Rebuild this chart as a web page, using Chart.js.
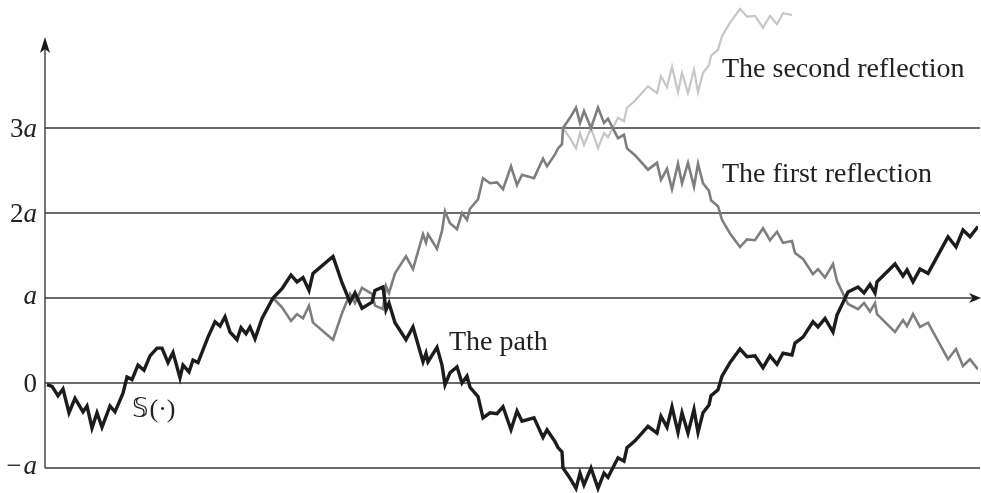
<!DOCTYPE html>
<html>
<head>
<meta charset="utf-8">
<script src="https://cdn.jsdelivr.net/npm/chart.js@4.4.1/dist/chart.umd.min.js"></script>
<style>
    html, body { margin: 0; padding: 0; background: #fff; }
    #wrap { width: 981px; height: 493px; }
</style>
</head>
<body>
<div id="wrap"><canvas id="reflectionChart" width="981" height="493"></canvas></div>
<script>
// time of each vertex of the walk (arbitrary units, 0..933)
const times = [
    2, 7, 13, 18, 24, 30, 38, 42, 47, 52, 57, 65, 70, 78, 82, 87, 93, 99, 105, 112,
    117, 123, 128, 135, 138, 144, 148, 153, 163, 170, 175, 180, 185, 192, 196, 201, 205, 210, 217, 228,
    237, 246, 252, 258, 264, 268, 288, 297, 305, 310, 317, 327, 330, 338, 341, 344, 350, 361, 368, 378,
    381, 383, 392, 397, 400, 405, 412, 417, 422, 425, 433, 438, 445, 452, 458, 466, 472, 477, 489, 498,
    502, 510, 513, 517, 518, 525, 531, 535, 539, 546, 553, 559, 563, 573, 579, 582, 590, 603, 612, 616,
    622, 627, 633, 637, 643, 649, 653, 658, 664, 666, 673, 677, 685, 695, 702, 710, 718, 725, 732, 738,
    747, 750, 758, 768, 773, 780, 788, 792, 803, 813, 819, 825, 830, 832, 850, 858, 862, 868, 875, 883,
    903, 911, 918, 925, 933
];

// the path S(.), in units of a
const pathValues = [
    -0.02, -0.04, -0.15, -0.07, -0.35, -0.18, -0.34, -0.27, -0.53, -0.35, -0.52, -0.27, -0.34, -0.12, 0.07, 0.04, 0.21, 0.15, 0.32, 0.41,
    0.41, 0.24, 0.36, 0.06, 0.21, 0.13, 0.27, 0.24, 0.54, 0.72, 0.67, 0.78, 0.60, 0.51, 0.65, 0.58, 0.66, 0.52, 0.76, 1.00,
    1.11, 1.27, 1.19, 1.24, 1.09, 1.29, 1.49, 1.18, 0.95, 1.06, 0.88, 0.95, 1.09, 1.13, 0.86, 0.94, 0.71, 0.51, 0.66, 0.25,
    0.35, 0.25, 0.42, 0.21, -0.02, 0.12, 0.19, 0.00, 0.08, -0.05, -0.16, -0.41, -0.35, -0.36, -0.28, -0.55, -0.33, -0.45, -0.41, -0.64,
    -0.55, -0.69, -0.76, -0.81, -1.00, -1.12, -1.24, -1.06, -1.20, -1.00, -1.24, -1.06, -1.11, -0.88, -0.92, -0.76, -0.68, -0.51, -0.59, -0.39,
    -0.52, -0.28, -0.58, -0.35, -0.59, -0.31, -0.58, -0.35, -0.26, -0.15, -0.08, 0.08, 0.24, 0.40, 0.31, 0.32, 0.18, 0.32, 0.22, 0.35,
    0.33, 0.47, 0.54, 0.72, 0.66, 0.76, 0.60, 0.80, 1.07, 1.13, 1.06, 1.16, 1.06, 1.19, 1.40, 1.26, 1.33, 1.19, 1.34, 1.29,
    1.72, 1.60, 1.80, 1.72, 1.84
];

// first reflection, from the first hit of a (time 228) to the end
const firstReflection = [
    1.00, 0.89, 0.73, 0.81, 0.76, 0.91, 0.71, 0.51, 0.82, 1.05, 0.94, 1.12, 1.05, 0.91, 0.87, 1.14, 1.06, 1.29, 1.49, 1.34,
    1.75, 1.65, 1.75, 1.58, 1.79, 2.02, 1.88, 1.81, 2.00, 1.92, 2.05, 2.16, 2.41, 2.35, 2.36, 2.28, 2.55, 2.33, 2.45, 2.41,
    2.64, 2.55, 2.69, 2.76, 2.81, 3.00, 3.12, 3.24, 3.06, 3.20, 3.00, 3.24, 3.06, 3.11, 2.88, 2.92, 2.76, 2.68, 2.51, 2.59,
    2.39, 2.52, 2.28, 2.58, 2.35, 2.59, 2.31, 2.58, 2.35, 2.26, 2.15, 2.08, 1.92, 1.76, 1.60, 1.69, 1.68, 1.82, 1.68, 1.78,
    1.65, 1.67, 1.53, 1.46, 1.28, 1.34, 1.24, 1.40, 1.20, 0.93, 0.87, 0.94, 0.84, 0.94, 0.81, 0.60, 0.74, 0.67, 0.81, 0.66,
    0.71, 0.28, 0.40, 0.20, 0.28, 0.16
];

// second reflection, from the first hit of 3a by the first reflection (time 518)
const secondReflection = [
    3.00, 2.88, 2.76, 2.94, 2.80, 3.00, 2.76, 2.94, 2.89, 3.12, 3.08, 3.24, 3.32, 3.49, 3.41, 3.61, 3.48, 3.72, 3.42, 3.65,
    3.41, 3.69, 3.42, 3.65, 3.74, 3.85, 3.92, 4.08, 4.24, 4.40, 4.31, 4.32, 4.18, 4.32, 4.22, 4.35, 4.33
];

const firstStartTime = 228;
const secondStartTime = 518;

// horizontal levels and their labels (roman part, italic part)
const levelValues = [-1, 0, 1, 2, 3];
const levelLabels = [['\u2212', 'a'], ['0', ''], ['', 'a'], ['2', 'a'], ['3', 'a']];

const SERIF = '"Liberation Serif", "DejaVu Serif", serif';

function toPoints(values, startTime) {
    const start = times.indexOf(startTime);
    return values.map((v, i) => ({ x: times[start + i], y: v }));
}

function arrowHead(ctx, tx, ty, dir) {
    // dir: 'right' or 'up'
    ctx.beginPath();
    if (dir === 'right') {
        ctx.moveTo(tx, ty);
        ctx.lineTo(tx - 12, ty - 5);
        ctx.lineTo(tx - 8.5, ty);
        ctx.lineTo(tx - 12, ty + 5);
    } else {
        ctx.moveTo(tx, ty);
        ctx.lineTo(tx - 5, ty + 16);
        ctx.lineTo(tx, ty + 12);
        ctx.lineTo(tx + 5, ty + 16);
    }
    ctx.closePath();
    ctx.fill();
}

const framePlugin = {
    id: 'frame',
    beforeDatasetsDraw(chart) {
        const { ctx, scales: { x, y } } = chart;
        const left = x.getPixelForValue(0);
        const right = x.getPixelForValue(933) + 2;
        ctx.save();
        ctx.strokeStyle = '#3a3a3a';
        ctx.fillStyle = '#1a1a1a';
        ctx.lineWidth = 1.4;
        levelValues.forEach(v => {
            const py = y.getPixelForValue(v);
            ctx.beginPath();
            ctx.moveTo(left, py);
            ctx.lineTo(v === 1 ? right - 6 : right, py);
            ctx.stroke();
            if (v === 1) arrowHead(ctx, right + 1, py, 'right');
        });
        // vertical axis from -a up to the arrow
        const bottom = y.getPixelForValue(-1);
        ctx.beginPath();
        ctx.moveTo(left, bottom);
        ctx.lineTo(left, 48);
        ctx.stroke();
        arrowHead(ctx, left, 37, 'up');
        ctx.restore();
    },
    afterDatasetsDraw(chart) {
        const { ctx, scales: { x, y } } = chart;
        ctx.save();
        ctx.fillStyle = '#222';
        const fs = 27;
        const rightEdge = 37;
        levelValues.forEach((v, i) => {
            const [roman, italic] = levelLabels[i];
            const py = y.getPixelForValue(v);
            const base = roman && roman !== '\u2212' ? py + 0.33 * fs : py + 0.22 * fs;
            ctx.font = 'italic ' + fs + 'px ' + SERIF;
            const wi = italic ? ctx.measureText(italic).width : 0;
            ctx.font = fs + 'px ' + SERIF;
            const wr = roman ? ctx.measureText(roman).width : 0;
            const gap = roman === '\u2212' ? 2 : 0;
            let px = rightEdge - wi - wr - gap;
            if (roman) { ctx.fillText(roman, px, base); px += wr + gap; }
            if (italic) { ctx.font = 'italic ' + fs + 'px ' + SERIF; ctx.fillText(italic, px, base); }
        });

        // annotations
        ctx.font = '28px ' + SERIF;
        ctx.fillText('The path', x.getPixelForValue(404), y.getPixelForValue(0.39));
        ctx.fillText('The first reflection', x.getPixelForValue(677), y.getPixelForValue(2.36));
        ctx.fillText('The second reflection', x.getPixelForValue(677), y.getPixelForValue(3.6));

        const sx = x.getPixelForValue(87);
        const sy = y.getPixelForValue(-0.40);
        ctx.font = '26px "DejaVu Sans", sans-serif';
        ctx.fillText('\u{1D54A}', sx, sy);
        const sw = ctx.measureText('\u{1D54A}').width;
        ctx.font = '26px ' + SERIF;
        ctx.fillText('(\u00B7)', sx + sw + 1, sy);
        ctx.restore();
    }
};

new Chart(document.getElementById('reflectionChart'), {
    type: 'line',
    data: {
        datasets: [
            {
                label: 'The path',
                data: toPoints(pathValues, times[0]),
                borderColor: '#1c1c1c',
                borderWidth: 3.4
            },
            {
                label: 'The first reflection',
                data: toPoints(firstReflection, firstStartTime),
                borderColor: '#7e7e7e',
                borderWidth: 2.6
            },
            {
                label: 'The second reflection',
                data: toPoints(secondReflection, secondStartTime),
                borderColor: '#c6c6c6',
                borderWidth: 2.2
            }
        ]
    },
    options: {
        responsive: false,
        animation: false,
        layout: { padding: { left: 45, right: 3, top: 0, bottom: 0 } },
        elements: {
            point: { radius: 0 },
            line: { tension: 0, fill: false }
        },
        plugins: {
            legend: { display: false },
            tooltip: { enabled: false }
        },
        scales: {
            x: { type: 'linear', display: false, min: 0, max: 933 },
            y: { type: 'linear', display: false, min: -1.294, max: 4.506 }
        }
    },
    plugins: [framePlugin]
});
</script>
</body>
</html>
